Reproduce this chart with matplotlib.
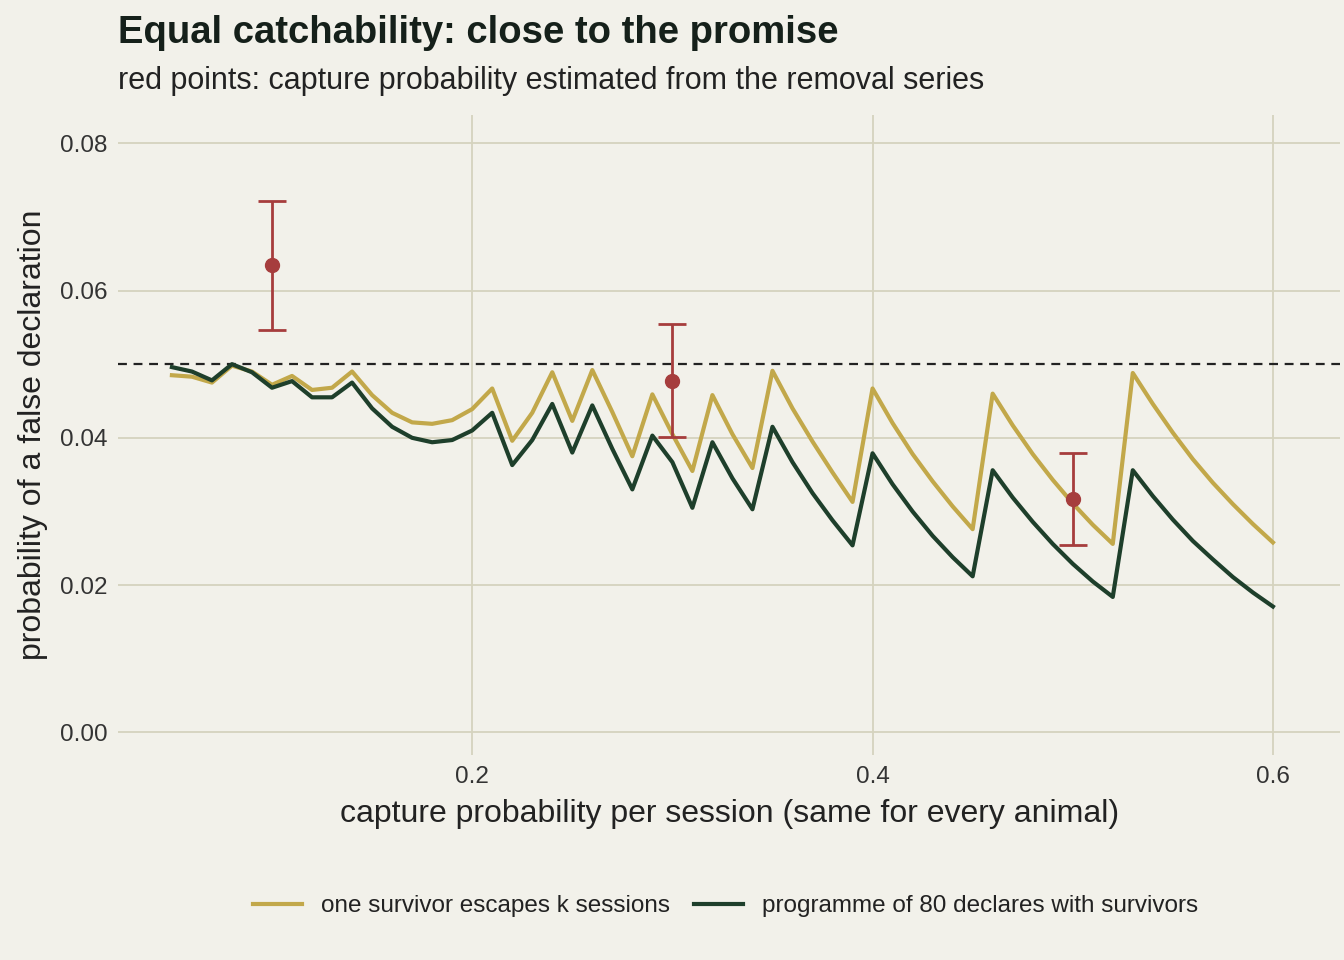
import matplotlib.pyplot as plt
import matplotlib.lines as mlines

# capture probability per session, 0.05 .. 0.60
p = [round(0.05 + 0.01 * i, 2) for i in range(56)]

one_survivor = [
    0.0485, 0.0483, 0.0475, 0.0498, 0.0490, 0.0472, 0.0484, 0.0465, 0.0468, 0.0490,
    0.0458, 0.0434, 0.0421, 0.0419, 0.0424, 0.0439, 0.0467, 0.0396, 0.0434, 0.0489,
    0.0423, 0.0492, 0.0435, 0.0375, 0.0459, 0.0405, 0.0355, 0.0458, 0.0405, 0.0359,
    0.0491, 0.0440, 0.0395, 0.0353, 0.0313, 0.0467, 0.0420, 0.0378, 0.0341, 0.0307,
    0.0276, 0.0460, 0.0417, 0.0378, 0.0343, 0.0311, 0.0282, 0.0256, 0.0488, 0.0446,
    0.0407, 0.0371, 0.0339, 0.0310, 0.0283, 0.0258,
]
programme = [
    0.0496, 0.0490, 0.0478, 0.0500, 0.0489, 0.0468, 0.0477, 0.0455, 0.0455, 0.0475,
    0.0440, 0.0415, 0.0400, 0.0394, 0.0397, 0.0410, 0.0434, 0.0363, 0.0397, 0.0446,
    0.0380, 0.0444, 0.0385, 0.0330, 0.0403, 0.0367, 0.0305, 0.0394, 0.0345, 0.0303,
    0.0415, 0.0367, 0.0325, 0.0288, 0.0254, 0.0379, 0.0337, 0.0300, 0.0267, 0.0238,
    0.0212, 0.0356, 0.0319, 0.0286, 0.0256, 0.0229, 0.0205, 0.0184, 0.0356, 0.0321,
    0.0289, 0.0260, 0.0235, 0.0211, 0.0190, 0.0171,
]

# removal-series estimates
est_p = [0.1, 0.3, 0.5]
est_val = [0.0634, 0.0477, 0.0317]
est_lo = [0.0547, 0.0401, 0.0255]
est_hi = [0.0722, 0.0554, 0.0379]

bg = "#F2F1EA"
gold = "#C2A84A"
dark = "#1E3F2B"
red = "#A63D3D"

plt.rcParams['font.family'] = ['Liberation Sans', 'DejaVu Sans']

fig = plt.figure(figsize=(13.44, 9.6), dpi=100, facecolor=bg)
ax = fig.add_axes([0.088, 0.214, 0.909, 0.666], facecolor=bg)

ax.axhline(0.05, color="#222222", lw=1.6, ls=(0, (4, 3)), zorder=2)
ax.plot(p, one_survivor, color=gold, lw=3, zorder=3)
ax.plot(p, programme, color=dark, lw=3, zorder=3)

yerr = [[v - lo for v, lo in zip(est_val, est_lo)], [hi - v for v, hi in zip(est_val, est_hi)]]
ax.errorbar(est_p, est_val, yerr=yerr, fmt="o", color=red, ms=10, elinewidth=2,
            capsize=10, capthick=2, zorder=4)

ax.set_xlim(0.0232, 0.6335)
ax.set_ylim(-0.003, 0.0838)
ax.set_xticks([0.2, 0.4, 0.6])
ax.set_xticklabels(["0.2", "0.4", "0.6"])
ax.set_yticks([0, 0.02, 0.04, 0.06, 0.08])
ax.set_yticklabels(["0.00", "0.02", "0.04", "0.06", "0.08"])
ax.grid(True, color="#D5D3BE", lw=1.3)
ax.set_axisbelow(True)
for s in ax.spines.values():
    s.set_visible(False)
ax.tick_params(length=0, labelsize=17.5, colors="#333333", pad=8)

ax.set_xlabel("capture probability per session (same for every animal)", fontsize=23, color="#222222", labelpad=8)
ax.set_ylabel("probability of a false declaration", fontsize=23, color="#222222", labelpad=8)

fig.text(0.088, 0.966, "Equal catchability: close to the promise", fontsize=27.5, fontweight="bold",
         color="#15201A", va="center")
fig.text(0.088, 0.916, "red points: capture probability estimated from the removal series", fontsize=22,
         color="#222222", va="center")

handles = [mlines.Line2D([], [], color=gold, lw=3, label="one survivor escapes k sessions"),
           mlines.Line2D([], [], color=dark, lw=3, label="programme of 80 declares with survivors")]
fig.legend(handles=handles, loc="center", bbox_to_anchor=(0.54, 0.056), ncol=2, frameon=False,
           fontsize=17.5, handlelength=2.0, columnspacing=1.0, handletextpad=0.8, labelcolor="#222222")

fig.savefig("out.png", dpi=100, facecolor=bg)
